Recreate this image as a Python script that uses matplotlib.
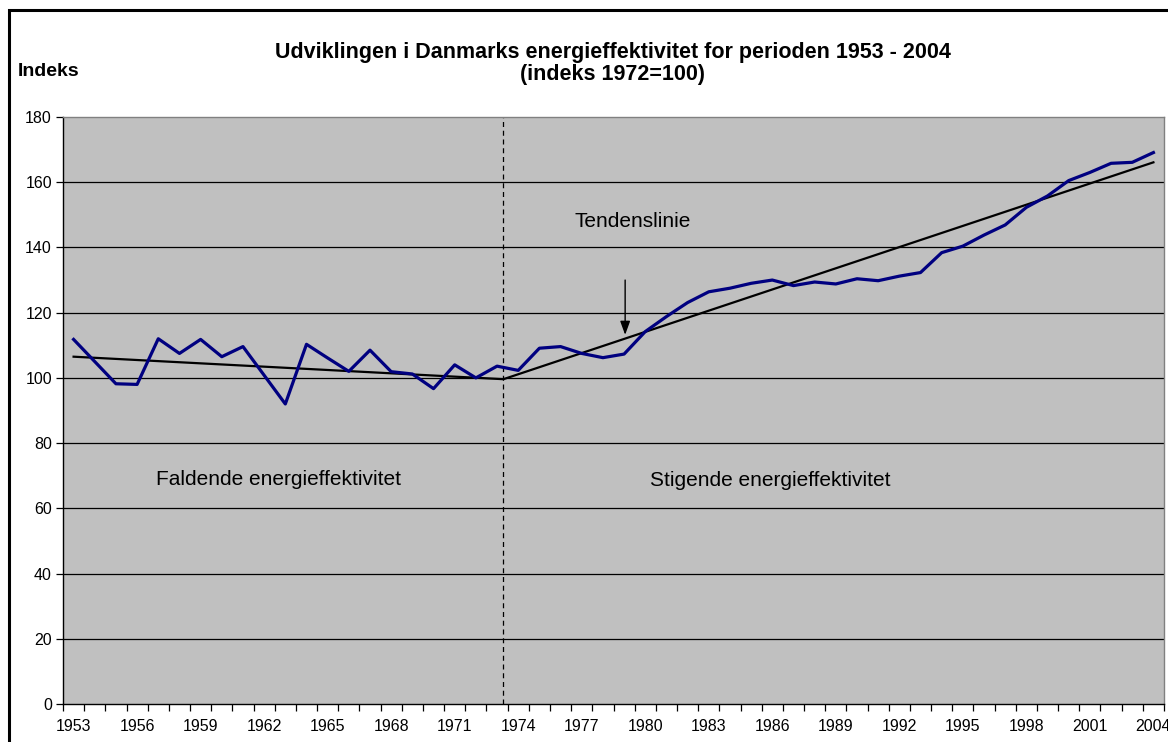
import numpy as np
import matplotlib.pyplot as plt
from matplotlib.patches import Rectangle

plt.rcParams['font.family'] = ['Liberation Sans', 'DejaVu Sans']

years = np.arange(1953, 2005)
index_values = [111.8, 105.0, 98.2, 98.0, 112.0, 107.5, 111.8, 106.5, 109.6, 100.8,
                92.0, 110.3, 106.1, 102.0, 108.5, 101.9, 101.2, 96.7, 104.0, 100.0,
                103.6, 102.3, 109.1, 109.6, 107.5, 106.2, 107.3, 114.2, 118.8, 123.1,
                126.4, 127.5, 129.0, 130.0, 128.3, 129.4, 128.8, 130.4, 129.8, 131.2,
                132.3, 138.4, 140.4, 143.8, 146.9, 152.3, 155.8, 160.5, 163.0, 165.8,
                166.1, 169.1]

trend_years = [1953, 1973.3, 2004]
trend_values = [106.5, 99.6, 166.1]

split_year = 1973.3
arrow_year = 1979.05
arrow_from, arrow_to = 130.0, 113.2

W, H = 1168, 742
fig = plt.figure(figsize=(W / 100, H / 100), dpi=100)
fig.patch.set_facecolor('white')

# outer frame (cut off at right and bottom like the original)
fig.patches.append(Rectangle((9 / W, -0.2), 1.3, 1.2 - 10 / H, transform=fig.transFigure,
                             fill=False, edgecolor='black', linewidth=2.2))

ax = fig.add_axes([63 / W, 38 / H, 1101 / W, 587 / H])
ax.set_facecolor('#C0C0C0')

ax.set_xlim(1952.5, 2004.5)
ax.set_ylim(0, 180)

for y in range(20, 180, 20):
    ax.axhline(y, color='black', linewidth=0.9, zorder=1)

ax.axvline(split_year, color='black', linewidth=0.9, linestyle=(0, (4, 3)), zorder=2)

ax.plot(trend_years, trend_values, color='black', linewidth=1.6, zorder=3)
ax.plot(years, index_values, color='#000080', linewidth=2.3, zorder=4)

ax.annotate('', xy=(arrow_year, arrow_to), xytext=(arrow_year, arrow_from),
            arrowprops=dict(arrowstyle='-|>,head_length=0.55,head_width=0.2',
                            mutation_scale=15, color='black', linewidth=1.0,
                            shrinkA=0, shrinkB=0), zorder=5)

ax.text(1979.4, 148, 'Tendenslinie', ha='center', va='center', fontsize=15)
ax.text(1962.7, 68.7, 'Faldende energieffektivitet', ha='center', va='center', fontsize=15)
ax.text(1985.9, 68.4, 'Stigende energieffektivitet', ha='center', va='center', fontsize=15)

ax.set_xticks(years[::3])
ax.set_xticklabels([str(y) for y in years[::3]])
ax.set_xticks(np.arange(1952.5, 2005, 1), minor=True)
ax.tick_params(axis='x', which='major', length=0, pad=11, labelsize=11.5)
ax.tick_params(axis='x', which='minor', length=5, width=0.9, direction='out')

ax.set_yticks(range(0, 181, 20))
ax.tick_params(axis='y', length=5, width=0.9, direction='out', pad=3, labelsize=11.5)

ax.spines['left'].set_color('black')
ax.spines['bottom'].set_color('black')
ax.spines['top'].set_color('#808080')
ax.spines['right'].set_color('#808080')
for s in ax.spines.values():
    s.set_linewidth(1.0)

fig.text(613 / W, 1 - 63.5 / H,
         'Udviklingen i Danmarks energieffektivitet for perioden 1953 - 2004\n(indeks 1972=100)',
         ha='center', va='center', fontsize=15.5, fontweight='bold', linespacing=1.1)
fig.text(18 / W, 1 - 71 / H, 'Indeks', ha='left', va='center', fontsize=14, fontweight='bold')

fig.savefig('out.png', dpi=100)
